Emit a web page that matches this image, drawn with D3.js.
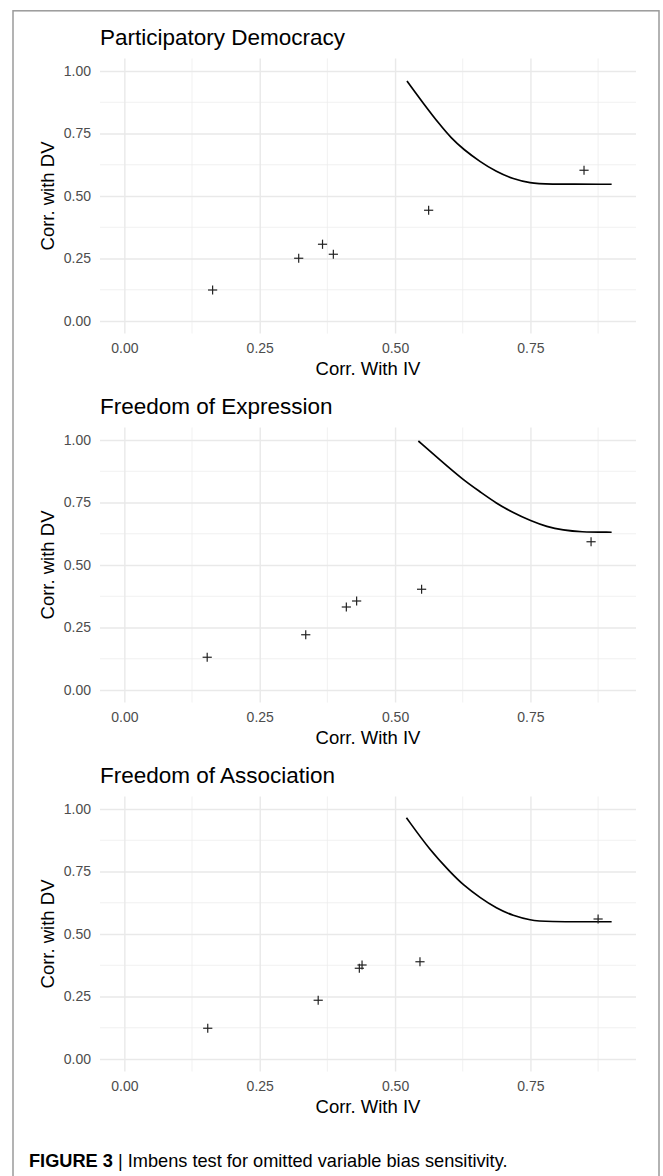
<!DOCTYPE html>
<html>
<head>
<meta charset="utf-8">
<script src="https://cdn.jsdelivr.net/npm/d3@7"></script>
<style>
  html, body { margin: 0; padding: 0; background: #fff; }
  svg { display: block; }
</style>
</head>
<body>
<svg id="chart" width="663" height="1176"></svg>
<script>
// ---------------- data ----------------
const panelTitles = ["Participatory Democracy", "Freedom of Expression", "Freedom of Association"];
const xTickValues = [0, 0.25, 0.5, 0.75];
const yTickValues = [0, 0.25, 0.5, 0.75, 1];
const xAxisTitle = "Corr. With IV";
const yAxisTitle = "Corr. with DV";

// observed covariates (+ markers)
const pdPointX = [0.163, 0.322, 0.366, 0.386, 0.562, 0.849];
const pdPointY = [0.124, 0.251, 0.307, 0.267, 0.443, 0.603];
const fePointX = [0.153, 0.335, 0.410, 0.429, 0.549, 0.862];
const fePointY = [0.131, 0.221, 0.332, 0.356, 0.403, 0.593];
const faPointX = [0.154, 0.358, 0.434, 0.439, 0.546, 0.875];
const faPointY = [0.123, 0.235, 0.363, 0.376, 0.389, 0.560];

// sensitivity threshold curves
const pdCurveX = [0.522, 0.552, 0.583, 0.604, 0.626, 0.657, 0.687, 0.718, 0.751, 0.774, 0.900];
const pdCurveY = [0.960, 0.871, 0.784, 0.731, 0.687, 0.637, 0.597, 0.568, 0.551, 0.547, 0.547];
const feCurveX = [0.543, 0.583, 0.626, 0.657, 0.687, 0.718, 0.751, 0.780, 0.811, 0.841, 0.900];
const feCurveY = [0.996, 0.920, 0.840, 0.793, 0.747, 0.709, 0.676, 0.653, 0.639, 0.632, 0.631];
const faCurveX = [0.521, 0.564, 0.604, 0.626, 0.657, 0.687, 0.718, 0.751, 0.774, 0.900];
const faCurveY = [0.965, 0.836, 0.743, 0.696, 0.645, 0.603, 0.573, 0.555, 0.549, 0.549];

const captionBold = "FIGURE 3";
const captionText = "Imbens test for omitted variable bias sensitivity.";

// ---------------- build ----------------
const panels = [
  {title: panelTitles[0], px: pdPointX, py: pdPointY, cx: pdCurveX, cy: pdCurveY},
  {title: panelTitles[1], px: fePointX, py: fePointY, cx: feCurveX, cy: feCurveY},
  {title: panelTitles[2], px: faPointX, py: faPointY, cx: faCurveX, cy: faCurveY}
];

const svg = d3.select("#chart");
const FONT = "'Liberation Sans', Arial, Helvetica, sans-serif";

// outer frame
svg.append("rect")
  .attr("x", 13).attr("y", 10.8)
  .attr("width", 646).attr("height", 1200)
  .attr("fill", "none").attr("stroke", "#9a9a9a").attr("stroke-width", 1.5);

const left = 100, right = 636;
const panelH = 275, firstTop = 58.5, step = 369;

// ggplot-like expansion: data range [0,0.9] x, [0,1] y, 5% each side
const x = d3.scaleLinear().domain([-0.045, 0.945]).range([left, right]);
const y = d3.scaleLinear().domain([-0.05, 1.05]).range([panelH, 0]);

const xMinor = [0.125, 0.375, 0.625, 0.875];
const yMinor = [0.125, 0.375, 0.625, 0.875];

panels.forEach((p, i) => {
  const top = firstTop + i * step;
  const g = svg.append("g").attr("transform", `translate(0,${top})`);

  // minor gridlines
  g.append("g").selectAll("line").data(xMinor).join("line")
    .attr("x1", d => x(d)).attr("x2", d => x(d))
    .attr("y1", 0).attr("y2", panelH)
    .attr("stroke", "#ededed").attr("stroke-width", 0.8);
  g.append("g").selectAll("line").data(yMinor).join("line")
    .attr("x1", left).attr("x2", right)
    .attr("y1", d => y(d)).attr("y2", d => y(d))
    .attr("stroke", "#ededed").attr("stroke-width", 0.8);

  // major gridlines + tick labels via axes
  const gx = g.append("g")
    .call(d3.axisBottom(x).tickValues(xTickValues).tickFormat(d3.format(".2f")).tickSize(0));
  gx.select(".domain").remove();
  gx.selectAll(".tick line").attr("y1", 0).attr("y2", panelH)
    .attr("stroke", "#e9e9e9").attr("stroke-width", 1.4);
  gx.selectAll(".tick text").attr("y", panelH + 10).attr("dy", "0.71em")
    .attr("fill", "#4d4d4d").style("font-family", FONT).style("font-size", "14px");

  const gy = g.append("g").attr("transform", `translate(${left},0)`)
    .call(d3.axisLeft(y).tickValues(yTickValues).tickFormat(d3.format(".2f"))
      .tickSize(0).tickPadding(9));
  gy.select(".domain").remove();
  gy.selectAll(".tick line").attr("x1", 0).attr("x2", right - left)
    .attr("stroke", "#e9e9e9").attr("stroke-width", 1.4);
  gy.selectAll(".tick text")
    .attr("fill", "#4d4d4d").style("font-family", FONT).style("font-size", "14px");

  // curve
  const curveData = p.cx.map((v, k) => [v, p.cy[k]]);
  g.append("path").datum(curveData)
    .attr("fill", "none").attr("stroke", "#000").attr("stroke-width", 1.7)
    .attr("d", d3.line().x(d => x(d[0])).y(d => y(d[1])).curve(d3.curveBasis));

  // + markers
  const pts = p.px.map((v, k) => [v, p.py[k]]);
  const arm = 4.6;
  const mk = g.append("g").selectAll("g").data(pts).join("g")
    .attr("transform", d => `translate(${x(d[0])},${y(d[1])})`);
  mk.append("line").attr("x1", -arm).attr("x2", arm).attr("y1", 0).attr("y2", 0)
    .attr("stroke", "#222").attr("stroke-width", 1.2);
  mk.append("line").attr("x1", 0).attr("x2", 0).attr("y1", -arm).attr("y2", arm)
    .attr("stroke", "#222").attr("stroke-width", 1.2);

  // panel title
  g.append("text").attr("x", left).attr("y", 45 - firstTop)
    .text(p.title).attr("fill", "#000")
    .style("font-family", FONT).style("font-size", "22.5px");

  // x axis title
  g.append("text").attr("x", (left + right) / 2).attr("y", panelH + 41)
    .attr("text-anchor", "middle").text(xAxisTitle).attr("fill", "#000")
    .style("font-family", FONT).style("font-size", "18.5px");

  // y axis title
  g.append("text")
    .attr("transform", `translate(53.5,${panelH / 2}) rotate(-90)`)
    .attr("text-anchor", "middle").text(yAxisTitle).attr("fill", "#000")
    .style("font-family", FONT).style("font-size", "18.5px");
});

// caption
const cap = svg.append("text").attr("x", 29).attr("y", 1167)
  .style("font-family", "'Liberation Sans Narrow', 'Arial Narrow', " + FONT)
  .style("font-size", "18.2px").attr("fill", "#000");
cap.append("tspan").attr("font-weight", "bold").text(captionBold);
cap.append("tspan").text(" | " + captionText);
</script>
</body>
</html>
